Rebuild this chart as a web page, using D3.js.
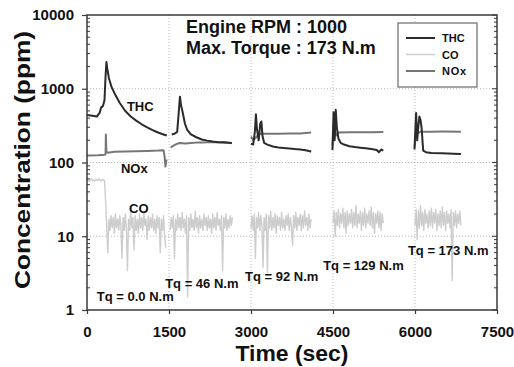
<!DOCTYPE html>
<html><head><meta charset="utf-8">
<script src="https://cdn.jsdelivr.net/npm/d3@7"></script>
<style>
html,body{margin:0;padding:0;background:#fff;}
svg text{font-family:"Liberation Sans",Arial,sans-serif;font-weight:bold;}
</style></head>
<body><svg id="c" width="514" height="367"></svg>
<script>
// ---- data ----
const xTicks = [0, 1500, 3000, 4500, 6000, 7500];
const yTicks = [1, 10, 100, 1000, 10000];
const seriesNames = ["THC", "CO", "NOx"];
const torqueLabels = ["Tq = 0.0 N.m", "Tq = 46 N.m", "Tq = 92 N.m", "Tq = 129 N.m", "Tq = 173 N.m"];
const titleLines = ["Engine RPM : 1000", "Max. Torque : 173 N.m"];

// THC segments [time, ppm]
const thc1 = [[0,440],[100,430],[180,420],[230,470],[260,560],[290,580],[320,700],[340,1500],[355,2300],[370,1900],[400,1400],[450,1050],[520,820],[600,640],[700,500],[800,420],[900,370],[1000,330],[1100,300],[1200,275],[1300,255],[1400,240],[1460,232]];
const thc2 = [[1550,240],[1600,245],[1650,260],[1680,500],[1700,780],[1720,600],[1740,520],[1760,440],[1790,340],[1830,280],[1900,240],[2000,220],[2100,205],[2200,198],[2300,192],[2400,188],[2500,186],[2650,184]];
const thc3 = [[3000,180],[3040,175],[3070,260],[3090,450],[3110,280],[3140,200],[3170,340],[3190,360],[3210,230],[3240,185],[3300,175],[3400,165],[3500,160],[3600,157],[3700,155],[3800,152],[3900,150],[4000,147],[4080,142],[4100,140]];
const thc4 = [[4490,148],[4510,480],[4530,200],[4550,520],[4570,300],[4600,210],[4640,185],[4700,175],[4800,166],[4900,162],[5000,159],[5100,156],[5200,152],[5300,148],[5340,138],[5380,150],[5420,145]];
const thc5 = [[5990,150],[6020,470],[6040,200],[6060,300],[6080,420],[6100,380],[6120,300],[6150,145],[6200,138],[6300,135],[6500,133],[6700,131],[6840,130]];

// NOx segments [time, ppm]
const nox1 = [[0,124],[200,125],[320,127],[340,130],[345,240],[355,140],[380,136],[500,140],[700,141],[900,142],[1100,143],[1300,145],[1400,147],[1420,120],[1435,88],[1455,110]];
const nox2 = [[1530,160],[1560,165],[1600,172],[1650,180],[1700,184],[1800,181],[1900,184],[2000,186],[2100,187],[2200,188],[2300,190],[2400,188],[2500,190],[2600,186],[2650,182]];
const nox3 = [[3000,225],[3040,200],[3080,215],[3120,230],[3160,245],[3300,245],[3500,245],[3700,247],[3900,248],[4100,255]];
const nox4 = [[4490,170],[4520,350],[4550,230],[4600,255],[4800,257],[5000,258],[5200,258],[5420,260]];
const nox5 = [[5995,165],[6030,300],[6060,250],[6100,262],[6300,262],[6500,263],[6840,262]];

// CO segments: sampled every coStep seconds from the given start time
const coStep = 20;
const coStarts = [0, 1520, 3000, 4500, 6000];
const co1 = [57,59,56,58,60,57,58,56,59,58,57,60,58,56,59,58,57,
  30,14,6,17,12,19,13,18,11,20,13,17,12,19,14,5,18,12,20,13,3.4,17,12,22,13,18,6.5,19,12,17,11,20,13,18,12,21,14,17,9,19,12,18,13,20,12,17,11,19,13,18,6,17,12,19,10,7];
const co2 = [12,18,13,19,5,17,12,20,13,18,12,21,13,17,11,19,1.5,18,12,20,13,17,12,22,13,18,11,19,13,17,12,20,14,18,12,19,13,17,11,20,13,18,12,21,14,17,12,19,3.4,18,13,20,12,17,13,19,14,18];
const co3 = [13,19,12,20,5,18,13,21,12,19,14,3.8,18,12,20,3.2,19,13,22,12,18,13,20,11,19,14,18,12,21,13,17,12,19,14,20,12,18,13,7.5,19,13,21,12,18,14,20,12,19,13,22,14,18,12,20,13,17];
const co4 = [15,22,10,21,14,23,13,20,15,24,13,21,11,22,14,20,15,23,13,21,14,26,13,20,15,22,12,21,14,24,13,20,15,22,14,25,13,21,11,20,15,22,13,21,12,20,15];
const co5 = [14,23,9,22,13,26,14,21,12,23,15,20,13,22,14,24,13,21,15,23,12,20,14,22,13,25,14,21,12,22,15,20,13,23,2.5,21,14,22,13,20,15,22,14];

// ---- drawing ----
const W = 514, H = 367;
const L = 87, R = 497, T = 15, B = 310;
const svg = d3.select("#c");
const x = d3.scaleLinear().domain([0, 7500]).range([L, R]);
const y = d3.scaleLog().domain([1, 10000]).range([B, T]);

const colors = {THC: "#2b2b2b", CO: "#cdcdcd", NOx: "#767676"};

// grid
const grid = svg.append("g").attr("stroke", "#b8b8b8").attr("stroke-width", 1).attr("stroke-dasharray", "1,2");
yTicks.slice(1, -1).forEach(v => grid.append("line").attr("x1", L).attr("x2", R).attr("y1", y(v)).attr("y2", y(v)));
xTicks.slice(1, -1).forEach(v => grid.append("line").attr("y1", T).attr("y2", B).attr("x1", x(v)).attr("x2", x(v)));

const line = d3.line().x(d => x(d[0])).y(d => y(d[1]));
const coData = [co1, co2, co3, co4, co5].map((vals, i) => vals.map((v, k) => [coStarts[i] + k * coStep, v]));

const g = svg.append("g").attr("fill", "none").attr("stroke-linejoin", "round");
coData.forEach(seg => g.append("path").attr("d", line(seg)).attr("stroke", colors.CO).attr("stroke-width", 1.4));
[nox1, nox2, nox3, nox4, nox5].forEach(seg => g.append("path").attr("d", line(seg)).attr("stroke", colors.NOx).attr("stroke-width", 2));
[thc1, thc2, thc3, thc4, thc5].forEach(seg => g.append("path").attr("d", line(seg)).attr("stroke", colors.THC).attr("stroke-width", 2));

// frame
svg.append("rect").attr("x", L).attr("y", T).attr("width", R - L).attr("height", B - T)
  .attr("fill", "none").attr("stroke", "#3a3a3a").attr("stroke-width", 1.5);

// axes
const yAxisL = d3.axisLeft(y).tickValues(yTicks).tickSize(5).tickFormat(d3.format("d"));
const ax = svg.append("g").attr("transform", `translate(${L},0)`).call(yAxisL);
ax.select(".domain").remove();
ax.selectAll("line").attr("stroke", "#3a3a3a").attr("stroke-width", 1.2);
ax.selectAll("text").attr("font-size", 15).attr("fill", "#111").attr("x", -13);

// minor y ticks (inside, both sides)
const minor = [];
for (let d = 1; d < 10000; d *= 10) for (let m = 2; m <= 9; m++) minor.push(d * m);
const mg = svg.append("g").attr("stroke", "#3a3a3a").attr("stroke-width", 1);
minor.forEach(v => {
  mg.append("line").attr("x1", L).attr("x2", L + 3).attr("y1", y(v)).attr("y2", y(v));
  mg.append("line").attr("x1", R - 3).attr("x2", R).attr("y1", y(v)).attr("y2", y(v));
});
yTicks.forEach(v => mg.append("line").attr("x1", R - 5).attr("x2", R).attr("y1", y(v)).attr("y2", y(v)));

const xAxis = d3.axisBottom(x).tickValues(xTicks).tickSize(4).tickFormat(d3.format("d"));
const bx = svg.append("g").attr("transform", `translate(0,${B})`).call(xAxis);
bx.select(".domain").remove();
bx.selectAll("line").attr("stroke", "#3a3a3a").attr("stroke-width", 1.2);
bx.selectAll("text").attr("font-size", 15).attr("fill", "#111").attr("y", 16);

// axis titles
svg.append("text").attr("x", 292).attr("y", 361).attr("text-anchor", "middle")
  .attr("font-size", 22).attr("fill", "#111").attr("textLength", 113).attr("lengthAdjust", "spacingAndGlyphs").text("Time (sec)");
svg.append("text").attr("transform", "translate(30,160) rotate(-90)").attr("text-anchor", "middle")
  .attr("font-size", 22).attr("fill", "#111").attr("textLength", 258).attr("lengthAdjust", "spacingAndGlyphs").text("Concentration (ppm)");

// title
titleLines.forEach((t, i) => svg.append("text").attr("x", 186).attr("y", 33 + i * 21)
  .attr("font-size", 18).attr("fill", "#111").text(t));

// series annotations (anchored in data units)
const ann = [["THC", 730, 500], ["NOx", 620, 72], ["CO", 770, 20.6]];
ann.forEach(a => svg.append("text").attr("x", x(a[1])).attr("y", y(a[2])).attr("font-size", 13).attr("fill", "#111").text(a[0]));
const tqPos = [[180, 1.32], [1430, 1.99], [2890, 2.47], [4320, 3.48], [5870, 5.57]];
torqueLabels.forEach((t, i) => svg.append("text").attr("x", x(tqPos[i][0])).attr("y", y(tqPos[i][1]))
  .attr("font-size", 13).attr("fill", "#111").text(t));

// legend
const lg = svg.append("g");
lg.append("rect").attr("x", 398).attr("y", 23).attr("width", 79).attr("height", 64)
  .attr("fill", "#fff").attr("stroke", "#6a6a6a").attr("stroke-width", 1.2);
seriesNames.forEach((s, i) => {
  const yy = 38 + i * 16.5;
  lg.append("line").attr("x1", 406).attr("x2", 435).attr("y1", yy).attr("y2", yy)
    .attr("stroke", colors[s]).attr("stroke-width", s === "CO" ? 1.5 : 2);
  lg.append("text").attr("x", 442).attr("y", yy + 4).attr("font-size", 11).attr("fill", "#111")
    .attr("letter-spacing", s === "NOx" ? 0.8 : 0).text(s);
});
</script></body></html>
